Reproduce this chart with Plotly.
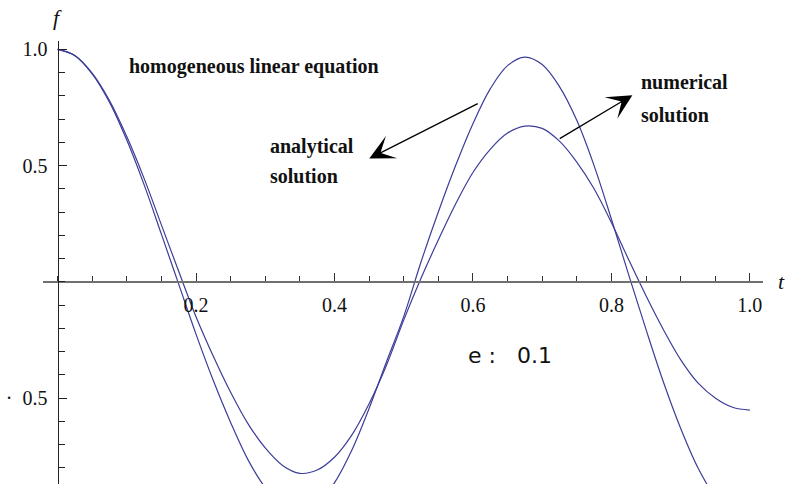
import plotly.graph_objects as go

# time samples
t = [0.000, 0.025, 0.050, 0.075, 0.100, 0.125, 0.150, 0.175, 0.200, 0.225,
     0.250, 0.275, 0.300, 0.325, 0.350, 0.375, 0.400, 0.425, 0.450, 0.475,
     0.500, 0.525, 0.550, 0.575, 0.600, 0.625, 0.650, 0.675, 0.700, 0.725,
     0.750, 0.775, 0.800, 0.825, 0.850, 0.875, 0.900, 0.925, 0.950, 0.975,
     1.000]

# analytical solution f(t)
f_analytical = [1.000, 0.973, 0.895, 0.773, 0.610, 0.418, 0.205, -0.010, -0.225, -0.425,
                -0.605, -0.765, -0.885, -0.960, -0.985, -0.955, -0.865, -0.725, -0.545, -0.345,
                -0.150, 0.085, 0.300, 0.500, 0.680, 0.830, 0.930, 0.967, 0.935, 0.840,
                0.695, 0.500, 0.270, 0.030, -0.205, -0.430, -0.630, -0.800, -0.925, -1.000,
                -1.030]

# numerical solution f(t)
f_numerical = [1.000, 0.974, 0.898, 0.780, 0.625, 0.445, 0.245, 0.045, -0.150, -0.320,
               -0.475, -0.610, -0.715, -0.790, -0.824, -0.810, -0.755, -0.660, -0.525, -0.360,
               -0.165, 0.015, 0.180, 0.335, 0.470, 0.570, 0.640, 0.670, 0.660, 0.605,
               0.515, 0.400, 0.255, 0.095, -0.060, -0.205, -0.335, -0.435, -0.500, -0.540,
               -0.552]

x_tickvals = [0.2, 0.4, 0.6, 0.8, 1.0]
x_ticktext = ["0.2", "0.4", "0.6", "0.8", "1.0"]
y_tickvals = [-0.5, 0.5, 1.0]
y_ticktext = ["\u00b7\u00a0\u00a00.5", "0.5", "1.0"]

X_RANGE = [-0.021, 1.019]
Y_RANGE = [-0.870, 1.036]

CURVE = "#3d3d99"
SERIF = "Liberation Serif, Times New Roman, serif"

fig = go.Figure()
fig.add_trace(go.Scatter(x=t, y=f_analytical, mode="lines", name="analytical",
                         line=dict(color=CURVE, width=1.2, shape="spline", smoothing=1.0)))
fig.add_trace(go.Scatter(x=t, y=f_numerical, mode="lines", name="numerical",
                         line=dict(color=CURVE, width=1.2, shape="spline", smoothing=1.0)))

# paper positions of the crossing axes
x_axis_pos = (0 - Y_RANGE[0]) / (Y_RANGE[1] - Y_RANGE[0])
y_axis_pos = (0 - X_RANGE[0]) / (X_RANGE[1] - X_RANGE[0])

fig.update_layout(
    template="none",
    width=787, height=484,
    margin=dict(l=43, r=24, t=41, b=0, pad=0),
    paper_bgcolor="white", plot_bgcolor="white",
    showlegend=False,
    xaxis=dict(
        range=X_RANGE, anchor="free", position=x_axis_pos,
        showgrid=False, zeroline=False, automargin=False,
        showline=True, linecolor="#707070", linewidth=2,
        tickmode="array", tickvals=x_tickvals, ticktext=x_ticktext,
        ticks="inside", ticklen=8, tickwidth=1, tickcolor="#333333",
        minor=dict(tickmode="linear", tick0=0, dtick=0.05, ticks="inside",
                   ticklen=5, tickwidth=1, tickcolor="#333333", showgrid=False),
        tickfont=dict(family=SERIF, size=20, color="#111111"),
        ticklabelstandoff=5,
    ),
    yaxis=dict(
        range=Y_RANGE, anchor="free", position=y_axis_pos,
        showgrid=False, zeroline=False, automargin=False,
        showline=True, linecolor="#222222", linewidth=1,
        tickmode="array", tickvals=y_tickvals, ticktext=y_ticktext,
        ticks="inside", ticklen=8, tickwidth=1, tickcolor="#222222",
        minor=dict(tickmode="linear", tick0=0, dtick=0.1, ticks="inside",
                   ticklen=6, tickwidth=1, tickcolor="#222222", showgrid=False),
        tickfont=dict(family=SERIF, size=20, color="#111111"),
        ticklabelstandoff=6,
    ),
)

bold = dict(family=SERIF, size=20, color="#111111", weight="bold")

# axis names, placed in paper space just beyond the plotting area
fig.add_annotation(x=y_axis_pos, y=1.053, xref="paper", yref="paper", text="<i>f</i>",
                   xanchor="center", yanchor="middle", showarrow=False,
                   font=dict(family=SERIF, size=22, color="#111111"))
fig.add_annotation(x=1.034, y=x_axis_pos, xref="paper", yref="paper", text="<i>t</i>",
                   xanchor="right", yanchor="middle", showarrow=False,
                   font=dict(family=SERIF, size=22, color="#111111"))

# captions
fig.add_annotation(x=0.1004, y=0.927, xref="x", yref="y", xanchor="left",
                   text="homogeneous linear equation", showarrow=False, font=bold)
fig.add_annotation(x=0.304, y=0.583, xref="x", yref="y", xanchor="left",
                   text="analytical", showarrow=False, font=bold)
fig.add_annotation(x=0.304, y=0.454, xref="x", yref="y", xanchor="left",
                   text="solution", showarrow=False, font=bold)
fig.add_annotation(x=0.8397, y=0.859, xref="x", yref="y", xanchor="left",
                   text="numerical", showarrow=False, font=bold)
fig.add_annotation(x=0.8397, y=0.719, xref="x", yref="y", xanchor="left",
                   text="solution", showarrow=False, font=bold)
fig.add_annotation(x=0.590, y=-0.317, xref="x", yref="y", xanchor="left",
                   text="e\u00a0:\u00a0\u00a0\u00a00.1", showarrow=False,
                   font=dict(family="DejaVu Sans, sans-serif", size=22, color="#111111"))

# pointer arrows from each curve toward its caption
arrow = dict(showarrow=True, arrowhead=3, arrowsize=3.2, arrowwidth=1.3,
             arrowcolor="black", text="", xref="x", yref="y", axref="x", ayref="y")
fig.add_annotation(x=0.4503, y=0.5305, ax=0.6091, ay=0.7696, **arrow)
fig.add_annotation(x=0.8303, y=0.8027, ax=0.7232, ay=0.6122, **arrow)

fig.write_html("out.html")
